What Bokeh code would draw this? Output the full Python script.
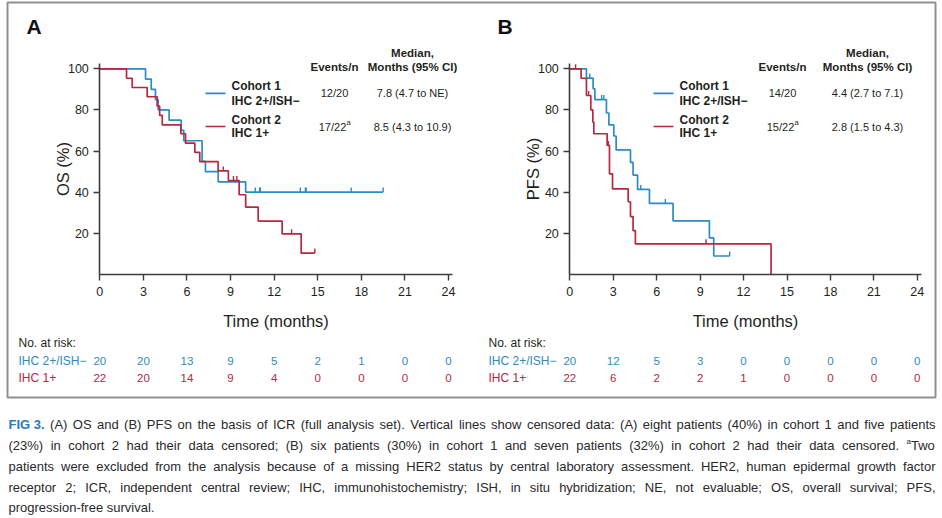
from bokeh.plotting import figure
from bokeh.models import Range1d, LinearAxis, FixedTicker
from bokeh.embed import file_html
from bokeh.resources import INLINE
from bokeh.core.properties import value

# ---------------------------------------------------------------- data
month_ticks = [0, 3, 6, 9, 12, 15, 18, 21, 24]
pct_ticks = [20, 40, 60, 80, 100]

# (A) OS - cohort 1 (IHC 2+/ISH-)
os_c1_time = [0, 3.15, 3.54, 3.83, 4.02, 4.77, 5.6, 5.78, 7.04, 7.27, 8.15, 10.04, 19.5]
os_c1_surv = [100, 95, 90, 85, 80, 75, 70, 65, 55, 50, 45, 40, 40]
os_c1_cens_time = [10.7, 11.0, 11.05, 13.8, 14.15, 14.2, 17.3, 19.5]
os_c1_cens_surv = [40, 40, 40, 40, 40, 40, 40, 40]
# (A) OS - cohort 2 (IHC 1+)
os_c2_time = [0, 1.84, 2.23, 3.26, 3.95, 4.12, 4.3, 5.58, 5.9, 6.54, 6.88, 8.14, 8.85,
              9.59, 10.04, 10.9, 12.55, 13.86, 14.8]
os_c2_surv = [100, 95.4, 90.9, 86.4, 81.8, 77.3, 72.7, 68.4, 63.8, 59.3, 54.8, 50.3, 45.6,
              38.7, 32.7, 25.9, 19.7, 10.3, 10.3]
os_c2_cens_time = [8.5, 9.2, 9.43, 13.2, 14.8]
os_c2_cens_surv = [50.3, 45.6, 45.6, 19.7, 10.3]

# (B) PFS - cohort 1
pfs_c1_time = [0, 1.15, 1.61, 1.73, 2.53, 2.7, 3.04, 3.2, 4.19, 4.37, 4.68, 5.5, 7.13,
               9.64, 9.94, 11.04]
pfs_c1_surv = [100, 95.5, 90.3, 85, 78.5, 72.7, 67.3, 60.5, 54.5, 48.3, 41.3, 34.5, 26,
               17.7, 8.9, 8.9]
pfs_c1_cens_time = [1.38, 2.2, 2.35, 4.9, 6.6, 11.04]
pfs_c1_cens_surv = [95.5, 85, 85, 41.3, 34.5, 8.9]
# (B) PFS - cohort 2
pfs_c2_time = [0, 0.78, 1.15, 1.45, 1.59, 1.66, 2.58, 2.74, 2.95, 4.03, 4.19, 4.37, 4.53, 13.9]
pfs_c2_surv = [100, 95.4, 87, 80, 74, 68.4, 62.7, 48.9, 41.6, 35.3, 28.1, 21.3, 14.8, 0]
pfs_c2_cens_time = [0.4, 1.3, 2.66, 9.41]
pfs_c2_cens_surv = [100, 87, 62.7, 14.8]

# numbers at risk (at month_ticks)
os_risk_c1 = [20, 20, 13, 9, 5, 2, 1, 0, 0]
os_risk_c2 = [22, 20, 14, 9, 4, 0, 0, 0, 0]
pfs_risk_c1 = [20, 12, 5, 3, 0, 0, 0, 0, 0]
pfs_risk_c2 = [22, 6, 2, 2, 1, 0, 0, 0, 0]

cohort_names = [("Cohort 1", "IHC 2+/ISH\u2212"), ("Cohort 2", "IHC 1+")]
risk_row_names = ["IHC 2+/ISH\u2212", "IHC 1+"]
os_events = ["12/20", "17/22"]
os_events_note = ["", "a"]
os_median = ["7.8 (4.7 to NE)", "8.5 (4.3 to 10.9)"]
pfs_events = ["14/20", "15/22"]
pfs_events_note = ["", "a"]
pfs_median = ["4.4 (2.7 to 7.1)", "2.8 (1.5 to 4.3)"]

caption_lead = "FIG 3."
caption_lines = [
    "(A) OS and (B) PFS on the basis of ICR (full analysis set). Vertical lines show "
    "censored data: (A) eight patients (40%) in cohort 1 and five patients",
    "(23%) in cohort 2 had their data censored; (B) six patients (30%) in cohort 1 and "
    "seven patients (32%) in cohort 2 had their data censored. \u1d43Two",
    "patients were excluded from the analysis because of a missing HER2 status by central "
    "laboratory assessment. HER2, human epidermal growth factor",
    "receptor 2; ICR, independent central review; IHC, immunohistochemistry; ISH, in situ "
    "hybridization; NE, not evaluable; OS, overall survival; PFS,",
    "progression-free survival.",
]

# ---------------------------------------------------------------- style / layout
BLUE = "#2e8ac3"
RED = "#b5283f"
DARK = "#231f20"
AXIS = "#3c3c3c"
FONT = "Liberation Sans"

W, H = 940, 516
XMAX, YMAX = 24.3, 102.6
Y0, SY = 273.8, 2.055            # y pixel of 0 %, pixels per %
PANEL = {"A": (99.3, 14.53), "B": (569.3, 14.48)}   # x pixel of month 0, px per month

p = figure(width=W, height=H, x_range=Range1d(0, W), y_range=Range1d(H, 0),
           min_border=0, x_axis_type=None, y_axis_type=None,
           output_backend="svg", toolbar_location=None, tools="")
p.outline_line_color = None
p.background_fill_color = "white"
p.border_fill_color = "white"
p.extra_x_ranges = {k + "x": Range1d(-fl / sx, (W - fl) / sx) for k, (fl, sx) in PANEL.items()}
p.extra_y_ranges = {"ky": Range1d((Y0 - H) / SY, Y0 / SY)}


def txt(x, y, s, size, color=DARK, bold=False, align="left", xr="default"):
    p.text(x=[x], y=[y], text=[s], x_range_name=xr, text_font=value(FONT),
           text_font_size=f"{size}px", text_font_style="bold" if bold else "normal",
           text_color=color, text_align=align, text_baseline="middle")


# outer frame of the figure panel
p.quad(left=[7], right=[935], top=[2], bottom=[397], fill_color=None,
       line_color="#8f8f8f", line_width=2)


def panel(key, letter, ylabel, curves, risks, events, notes, medians,
          leg_x, ev_x, med_x, letter_x, risk_x):
    xr = key + "x"
    xa = LinearAxis(x_range_name=xr, y_range_name="ky", fixed_location=0,
                    bounds=(0, XMAX), ticker=FixedTicker(ticks=month_ticks),
                    axis_label="Time (months)")
    ya = LinearAxis(x_range_name=xr, y_range_name="ky", fixed_location=0,
                    bounds=(0, YMAX), ticker=FixedTicker(ticks=pct_ticks),
                    axis_label=ylabel)
    for ax in (xa, ya):
        ax.axis_line_color = AXIS
        ax.axis_line_width = 1.6
        ax.major_tick_line_color = AXIS
        ax.major_tick_line_width = 1.4
        ax.major_tick_in = 0
        ax.major_tick_out = 6
        ax.minor_tick_line_color = None
        ax.major_label_text_font = FONT
        ax.major_label_text_font_size = "12.5px"
        ax.major_label_text_color = DARK
        ax.axis_label_text_font = FONT
        ax.axis_label_text_font_size = "16.5px"
        ax.axis_label_text_font_style = "normal"
        ax.axis_label_text_color = DARK
    xa.major_label_standoff = 7
    xa.axis_label_standoff = 12
    ya.major_label_standoff = 5
    ya.axis_label_standoff = -7
    p.add_layout(xa, "below")
    p.add_layout(ya, "left")

    colors = [BLUE, RED]
    for (t, s, ct, cs), col in zip(curves, colors):
        p.step(x=t, y=s, mode="after", line_color=col, line_width=1.7,
               x_range_name=xr, y_range_name="ky")
        p.segment(x0=ct, y0=cs, x1=ct, y1=[v + 2.2 for v in cs], line_color=col,
                  line_width=1.4, x_range_name=xr, y_range_name="ky")

    # panel letter
    txt(letter_x, 26, letter, 21, bold=True, color="#111111")

    # legend table
    txt(med_x, 52.5, "Median,", 11.5, bold=True, align="center")
    txt(ev_x, 66, "Events/n", 11.5, bold=True, align="center")
    txt(med_x, 66, "Months (95% CI)", 11.5, bold=True, align="center")
    rows_y = [(85.5, 100.5, 92.8), (119.5, 132, 126)]
    for (n1, n2), (y1, y2, ym), col, ev, nt, md in zip(cohort_names, rows_y, colors,
                                                         events, notes, medians):
        p.segment(x0=[leg_x], y0=[ym], x1=[leg_x + 20], y1=[ym], line_color=col,
                  line_width=1.7)
        txt(leg_x + 26, y1, n1, 12, bold=True)
        txt(leg_x + 26, y2, n2, 12, bold=True)
        if nt:
            txt(ev_x - 2, ym, ev, 11, align="center")
            txt(ev_x + 12, ym - 4, nt, 7.5)
        else:
            txt(ev_x, ym, ev, 11, align="center")
        txt(med_x, ym, md, 11, align="center")

    # numbers at risk
    txt(risk_x, 342, "No. at risk:", 12)
    for name, counts, col, py in zip(risk_row_names, risks, colors, [360, 377]):
        txt(risk_x, py, name, 12, color=col)
        p.text(x=month_ticks, y=[py] * len(month_ticks), text=[str(c) for c in counts],
               x_range_name=xr, text_font=value(FONT), text_font_size="11.5px",
               text_color=col, text_align="center", text_baseline="middle")


panel("A", "A", "OS (%)",
      [(os_c1_time, os_c1_surv, os_c1_cens_time, os_c1_cens_surv),
       (os_c2_time, os_c2_surv, os_c2_cens_time, os_c2_cens_surv)],
      [os_risk_c1, os_risk_c2], os_events, os_events_note, os_median,
      leg_x=205, ev_x=334, med_x=412, letter_x=26, risk_x=18)
panel("B", "B", "PFS (%)",
      [(pfs_c1_time, pfs_c1_surv, pfs_c1_cens_time, pfs_c1_cens_surv),
       (pfs_c2_time, pfs_c2_surv, pfs_c2_cens_time, pfs_c2_cens_surv)],
      [pfs_risk_c1, pfs_risk_c2], pfs_events, pfs_events_note, pfs_median,
      leg_x=653, ev_x=782, med_x=867, letter_x=497, risk_x=488)

# ---------------------------------------------------------------- caption (justified)
REG = {" ": 278, "(": 333, ")": 333, "%": 889, ".": 278, ",": 278, ";": 278, ":": 278,
       "-": 333, "A": 667, "B": 667, "C": 722, "E": 667, "F": 611, "H": 722, "I": 278,
       "N": 722, "O": 778, "P": 667, "R": 722, "S": 667, "T": 611, "V": 667,
       "a": 556, "b": 556, "c": 500, "d": 556, "e": 556, "f": 278, "g": 556, "h": 556,
       "i": 222, "j": 222, "k": 500, "l": 222, "m": 833, "n": 556, "o": 556, "p": 556,
       "q": 556, "r": 333, "s": 500, "t": 278, "u": 556, "v": 500, "w": 722, "x": 500,
       "y": 500, "z": 500}
BOLD = {" ": 278, "F": 611, "I": 278, "G": 778, "3": 556, ".": 278}
SUP = 0.62


def em(s, table):
    tot = 0.0
    for ch in s:
        if ch.isdigit():
            tot += 556
        elif ch == "\u1d43":
            tot += 556 * SUP
        else:
            tot += table.get(ch, 556)
    return tot / 1000.0


CAP_L, CAP_R = 8, 935
line_y = [424, 445, 466, 487, 507]
tokens = []
for i, ln in enumerate(caption_lines):
    words = ln.split(" ")
    lead = [caption_lead] if i == 0 else []
    tokens.append((lead, words))

fs = 13.0
for i, (lead, words) in enumerate(tokens[:-1]):
    n = len(lead) + len(words)
    tot = sum(em(w, BOLD) for w in lead) + sum(em(w, REG) for w in words)
    fs = min(fs, (CAP_R - CAP_L - 2.6 * (n - 1)) / tot)

reg_x, reg_y, reg_t = [], [], []
sup_x, sup_y = [], []
for i, (lead, words) in enumerate(tokens):
    widths = [em(w, BOLD) * fs for w in lead] + [em(w, REG) * fs for w in words]
    n = len(widths)
    if i < len(tokens) - 1:
        gap = (CAP_R - CAP_L - sum(widths)) / (n - 1)
    else:
        gap = 0.278 * fs
    x = CAP_L
    for k, w in enumerate(lead + words):
        if k < len(lead):
            txt(x, line_y[i], w, fs, color="#2b78bd", bold=True)
        elif w.startswith("\u1d43"):
            sup_x.append(x)
            sup_y.append(line_y[i] - 4)
            reg_x.append(x + 556 * SUP * fs / 1000.0)
            reg_y.append(line_y[i])
            reg_t.append(w[1:])
        else:
            reg_x.append(x)
            reg_y.append(line_y[i])
            reg_t.append(w)
        x += widths[k] + gap

p.text(x=reg_x, y=reg_y, text=reg_t, text_font=value(FONT), text_font_size=f"{fs:.2f}px",
       text_color="#2a2a2a", text_align="left", text_baseline="middle")
p.text(x=sup_x, y=sup_y, text=["a"] * len(sup_x), text_font=value(FONT),
       text_font_size=f"{fs * SUP:.2f}px", text_color="#2a2a2a", text_align="left",
       text_baseline="middle")

open("out.html", "w").write(file_html(p, INLINE))
